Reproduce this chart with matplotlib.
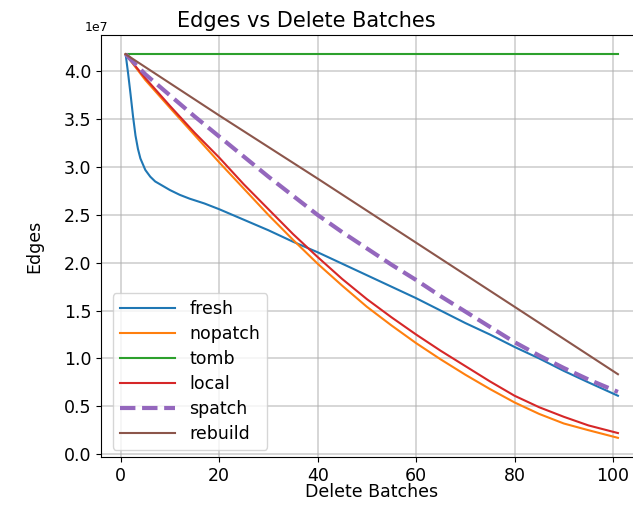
import matplotlib
matplotlib.use("Agg")
import matplotlib.pyplot as plt

# values (units of 1e7 edges)
fresh_x = [1, 1.5, 2, 2.5, 3, 3.5, 4, 5, 6, 7, 8, 10, 12, 14, 17, 20, 25, 30,
           35, 40, 45, 50, 55, 60, 65, 70, 75, 80, 85, 90, 95, 101]
fresh_y = [4.18, 3.98, 3.76, 3.53, 3.33, 3.19, 3.09, 2.97, 2.90, 2.85, 2.82,
           2.76, 2.71, 2.67, 2.62, 2.56, 2.45, 2.34, 2.22, 2.11, 1.99, 1.87,
           1.75, 1.63, 1.50, 1.37, 1.25, 1.12, 1.00, 0.87, 0.75, 0.61]

curve_x = [1, 5, 10, 15, 20, 25, 30, 35, 40, 45, 50, 55, 60, 65, 70, 75, 80,
           85, 90, 95, 101]
nopatch_y = [4.18, 3.91, 3.62, 3.335, 3.05, 2.775, 2.50, 2.24, 1.99, 1.76,
             1.54, 1.345, 1.16, 0.99, 0.83, 0.68, 0.54, 0.42, 0.32, 0.25, 0.17]
local_y = [4.18, 3.93, 3.64, 3.36, 3.10, 2.82, 2.56, 2.30, 2.06, 1.83, 1.62,
           1.43, 1.25, 1.08, 0.92, 0.76, 0.61, 0.49, 0.39, 0.30, 0.22]
spatch_y = [4.18, 3.97, 3.75, 3.53, 3.32, 3.11, 2.90, 2.70, 2.50, 2.32, 2.15,
            1.98, 1.82, 1.65, 1.49, 1.33, 1.17, 1.03, 0.90, 0.78, 0.65]

rebuild_x = [1, 20, 40, 60, 80, 101]
rebuild_y = [4.18, 3.54, 2.88, 2.21, 1.54, 0.835]

tomb_x = [1, 101]
tomb_y = [4.18, 4.18]

scale = 1e7

fig = plt.figure(figsize=(6.33, 5.05), dpi=100)
ax = fig.add_axes([0.1596, 0.095, 0.8555, 0.8356])

ax.plot(fresh_x, [v * scale for v in fresh_y], color='C0', lw=1.5, label='fresh')
ax.plot(curve_x, [v * scale for v in nopatch_y], color='C1', lw=1.5, label='nopatch')
ax.plot(tomb_x, [v * scale for v in tomb_y], color='C2', lw=1.5, label='tomb')
ax.plot(curve_x, [v * scale for v in local_y], color='C3', lw=1.5, label='local')
ax.plot(curve_x, [v * scale for v in spatch_y], color='C4', lw=3, ls='--', label='spatch')
ax.plot(rebuild_x, [v * scale for v in rebuild_y], color='C5', lw=1.5, label='rebuild')

ax.set_xlim(-4, 106)
ax.set_yticks([i * 0.5e7 for i in range(9)])
ax.grid(True, color='#b0b0b0', alpha=0.6, lw=1.2)
ax.tick_params(labelsize=12.5)
offset = ax.yaxis.get_offset_text()
offset.set_fontsize(9)
offset.set_x(-0.03)

ax.set_title('Edges vs Delete Batches', fontsize=15, x=0.38)
ax.set_xlabel('Delete Batches', fontsize=12.5)
ax.set_ylabel('Edges', fontsize=12.5)
ax.xaxis.set_label_coords(0.5, -0.062)
ax.yaxis.set_label_coords(-0.107, 0.5)

ax.legend(loc='lower left', bbox_to_anchor=(0.022, 0.017), borderaxespad=0,
          fontsize=12.5, handlelength=3.2, labelspacing=0.4)

fig.savefig('out.png', dpi=100)
